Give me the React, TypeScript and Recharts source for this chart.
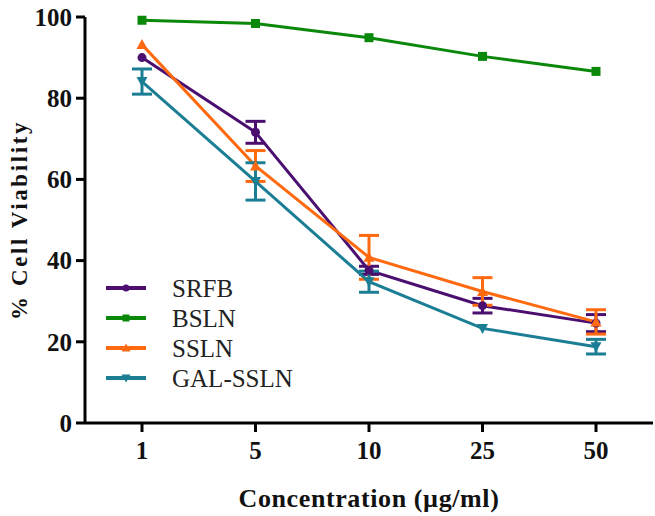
import React from 'react';
import { LineChart, Line, XAxis, YAxis, ErrorBar } from 'recharts';

const categories = ['1', '5', '10', '25', '50'];
const srfb = [90, 71.6, 37.6, 28.9, 24.6];
const srfbErr = [null, 2.7, 1.0, 1.8, 2.1];
const bsln = [99.2, 98.4, 94.9, 90.3, 86.6];
const bslnErr = [null, null, null, null, null];
const sslnV = [93.2, 63.3, 40.8, 32.4, 24.9];
const sslnErr = [null, 3.8, 5.4, 3.4, 3.0];
const gal = [84.1, 59.5, 34.8, 23.3, 18.8];
const galErr = [3.1, 4.6, 2.6, null, 1.8];
const yTicks = [0, 20, 40, 60, 80, 100];

const COLORS = {
  srfb: '#4B0F70',
  bsln: '#0A880A',
  ssln: '#FF6A10',
  gal: '#1C7E95',
};

const series = [
  { key: 'srfb', name: 'SRFB', color: COLORS.srfb, shape: 'circle' },
  { key: 'bsln', name: 'BSLN', color: COLORS.bsln, shape: 'square' },
  { key: 'ssln', name: 'SSLN', color: COLORS.ssln, shape: 'tri' },
  { key: 'gal', name: 'GAL-SSLN', color: COLORS.gal, shape: 'tridown' },
];

const data = categories.map((c, i) => ({
  conc: c,
  srfb: srfb[i],
  srfbErr: srfbErr[i],
  bsln: bsln[i],
  bslnErr: bslnErr[i],
  ssln: sslnV[i],
  sslnErr: sslnErr[i],
  gal: gal[i],
  galErr: galErr[i],
}));

const FONT = '"Liberation Serif", "Times New Roman", serif';

function Marker({ cx, cy, shape, color, s = 4.5 }: any) {
  if (cx == null || cy == null) return null;
  if (shape === 'circle') return <circle cx={cx} cy={cy} r={s} fill={color} stroke="none" />;
  if (shape === 'square')
    return <rect x={cx - s} y={cy - s} width={2 * s} height={2 * s} fill={color} stroke="none" />;
  if (shape === 'tri')
    return (
      <polygon
        points={`${cx},${cy - s - 1} ${cx - s - 1},${cy + s} ${cx + s + 1},${cy + s}`}
        fill={color}
      />
    );
  return (
    <polygon
      points={`${cx},${cy + s + 1} ${cx - s - 1},${cy - s} ${cx + s + 1},${cy - s}`}
      fill={color}
    />
  );
}

const makeDot = (shape: string, color: string) => (props: any) => (
  <Marker key={`${shape}-${props.index}`} cx={props.cx} cy={props.cy} shape={shape} color={color} />
);

const LegendBox = () => (
  <div
    style={{
      position: 'absolute',
      left: 105,
      top: 273,
      fontFamily: FONT,
      fontSize: 25,
      color: '#222',
      lineHeight: 1,
    }}
  >
    {series.map((s) => (
      <div key={s.key} style={{ display: 'flex', alignItems: 'center', height: 30 }}>
        <svg width={42} height={14} style={{ marginRight: 25 }}>
          <line x1={1} y1={7} x2={41} y2={7} stroke={s.color} strokeWidth={4} />
          <Marker cx={21} cy={7} shape={s.shape} color={s.color} s={3.5} />
        </svg>
        <span>{s.name}</span>
      </div>
    ))}
  </div>
);

export default function App() {
  return (
    <div style={{ position: 'absolute', left: 0, top: 0, width: 655, height: 516 }}>
      <LineChart
        width={655}
        height={516}
        data={data}
        margin={{ top: 17, right: 2, bottom: 33, left: 0 }}
      >
        <XAxis
          dataKey="conc"
          padding={{ left: 57, right: 57 }}
          axisLine={{ stroke: '#000', strokeWidth: 3 }}
          tickLine={{ stroke: '#000', strokeWidth: 3 }}
          tickSize={9}
          tickMargin={9}
          height={60}
          tick={{ fill: '#111', fontFamily: FONT, fontWeight: 700, fontSize: 25 }}
          label={{
            value: 'Concentration (µg/ml)',
            position: 'insideBottom',
            offset: -24,
            fill: '#111',
            fontFamily: FONT,
            fontWeight: 700,
            fontSize: 26,
            letterSpacing: 0.6,
          }}
        />
        <YAxis
          domain={[0, 100]}
          ticks={yTicks}
          width={85}
          axisLine={{ stroke: '#000', strokeWidth: 3 }}
          tickLine={{ stroke: '#000', strokeWidth: 3 }}
          tickSize={9}
          tickMargin={4}
          tick={{ fill: '#111', fontFamily: FONT, fontWeight: 700, fontSize: 25 }}
          label={{
            value: '% Cell Viability',
            angle: -90,
            position: 'insideLeft',
            offset: 19,
            style: { textAnchor: 'middle' },
            fill: '#111',
            fontFamily: FONT,
            fontWeight: 700,
            fontSize: 23,
            letterSpacing: 2.6,
          }}
        />
        {series.map((s) => (
          <Line
            key={s.key}
            type="linear"
            dataKey={s.key}
            name={s.name}
            stroke={s.color}
            strokeWidth={3}
            dot={makeDot(s.shape, s.color)}
            activeDot={false}
            isAnimationActive={false}
          >
            <ErrorBar
              dataKey={`${s.key}Err`}
              width={10}
              strokeWidth={3}
              stroke={s.color}
              direction="y"
            />
          </Line>
        ))}
      </LineChart>
      <LegendBox />
    </div>
  );
}
